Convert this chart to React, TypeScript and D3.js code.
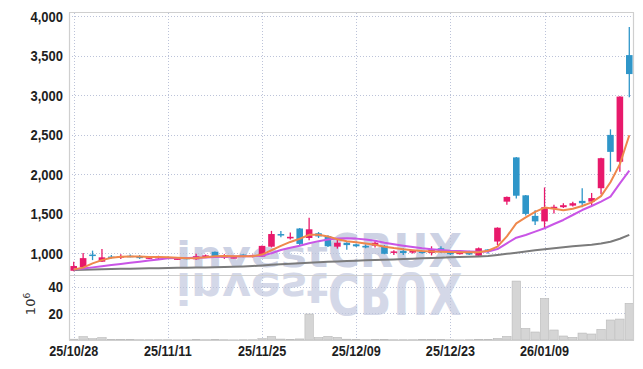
import React from 'react';
import * as d3 from 'd3';

// trading days shown on the chart
const dates = [
  '25/10/28', '25/10/29', '25/10/30', '25/10/31', '25/11/03', '25/11/04', '25/11/05', '25/11/06', '25/11/07', '25/11/10',
  '25/11/11', '25/11/12', '25/11/13', '25/11/14', '25/11/17', '25/11/18', '25/11/19', '25/11/20', '25/11/21', '25/11/24',
  '25/11/25', '25/11/26', '25/11/27', '25/11/28', '25/12/01', '25/12/02', '25/12/03', '25/12/04', '25/12/05', '25/12/08',
  '25/12/09', '25/12/10', '25/12/11', '25/12/12', '25/12/15', '25/12/16', '25/12/17', '25/12/18', '25/12/19', '25/12/22',
  '25/12/23', '25/12/24', '25/12/26', '25/12/29', '25/12/30', '26/01/02', '26/01/05', '26/01/06', '26/01/07', '26/01/08',
  '26/01/09', '26/01/12', '26/01/13', '26/01/14', '26/01/15', '26/01/16', '26/01/19', '26/01/20', '26/01/21', '26/01/22',
];

const opens = [
  775, 820, 980, 890, 955, 945, 965, 960, 930, 935,
  945, 920, 940, 920, 945, 1015, 940, 945, 980, 950,
  955, 1080, 1240, 1185, 1310, 1190, 1250, 1215, 1080, 1130,
  1110, 1090, 1092, 1090, 1005, 1025, 1005, 1020, 1000, 1060,
  1005, 985, 1000, 965, 1045, 1145, 1650, 2210, 1730, 1470,
  1400, 1565, 1580, 1600, 1660, 1650, 1820, 2495, 2155, 3505,
];
const highs = [
  890, 1000, 1030, 1050, 975, 985, 980, 975, 960, 965,
  955, 940, 945, 990, 980, 1020, 985, 955, 985, 980,
  1095, 1280, 1280, 1260, 1315, 1445, 1265, 1225, 1185, 1135,
  1120, 1110, 1150, 1100, 1035, 1060, 1035, 1030, 1085, 1085,
  1015, 1015, 1030, 1070, 1050, 1325, 1715, 2215, 1735, 1540,
  1830, 1610, 1630, 1650, 1820, 1760, 2205, 2565, 2985, 3860,
];
const lows = [
  770, 815, 910, 885, 930, 925, 945, 925, 925, 925,
  925, 915, 920, 915, 940, 950, 925, 935, 945, 945,
  950, 1070, 1200, 1170, 1090, 1160, 1190, 1075, 1055, 1040,
  1075, 1060, 1070, 985, 975, 975, 995, 990, 970, 1000,
  975, 980, 975, 960, 990, 1100, 1610, 1690, 1475, 1355,
  1315, 1500, 1570, 1590, 1580, 1600, 1745, 2030, 2030, 2970,
];
const closes = [
  835, 935, 970, 945, 950, 960, 955, 935, 945, 950,
  935, 932, 925, 960, 970, 955, 960, 948, 950, 975,
  1090, 1240, 1230, 1205, 1115, 1300, 1210, 1085, 1130, 1100,
  1085, 1070, 1130, 990, 1020, 1000, 1025, 1000, 1045, 1020,
  985, 1005, 985, 1060, 1025, 1320, 1710, 1725, 1495, 1400,
  1580, 1585, 1605, 1630, 1630, 1695, 2200, 2280, 2980, 3265,
];

// volume in millions of shares
const volumes = [
  0.6, 2.5, 1.0, 1.8, 0.3, 0.3, 0.3, 0.2, 0.2, 0.2,
  0.2, 0.1, 0.1, 0.3, 0.2, 0.3, 0.2, 0.1, 0.2, 0.2,
  1.0, 2.7, 0.7, 0.4, 0.8, 19.5, 1.8, 2.7, 2.0, 0.6,
  0.3, 0.2, 0.5, 0.5, 0.2, 0.2, 0.2, 0.3, 0.5, 0.3,
  0.2, 0.1, 0.2, 0.5, 0.3, 1.2, 2.7, 44.2, 8.7, 6.0,
  31.2, 7.5, 3.0, 2.0, 5.2, 4.5, 8.0, 15.0, 15.7, 27.5,
];

// moving average lines as drawn
const maShort = [
  790, 815, 868, 910, 940, 952, 955, 955, 950, 948,
  945, 940, 935, 938, 945, 958, 962, 960, 958, 960,
  980, 1035, 1090, 1140, 1180, 1230, 1232, 1210, 1175, 1150,
  1135, 1120, 1105, 1080, 1062, 1047, 1035, 1025, 1020, 1015,
  1012, 1009, 1008, 1010, 1028, 1080, 1210, 1376, 1450, 1520,
  1575, 1560, 1540, 1560, 1595, 1640, 1720, 1895, 2125, 2490,
];
const maMid = [
  790, 804, 818, 833, 847, 861, 876, 890, 904, 918,
  933, 936, 938, 940, 942, 948, 952, 955, 958, 960,
  966, 996, 1038, 1067, 1092, 1123, 1150, 1170, 1183, 1188,
  1182, 1170, 1155, 1130, 1110, 1092, 1075, 1060, 1048, 1038,
  1030, 1025, 1020, 1017, 1018, 1050, 1123, 1194, 1228, 1270,
  1313, 1367, 1418, 1481, 1544, 1595, 1650, 1713, 1882, 2042,
];
const maLong = [
  785, 788, 791, 794, 797, 800, 802, 804, 806, 808,
  810, 812, 814, 816, 818, 820, 823, 826, 830, 835,
  842, 850, 857, 864, 870, 876, 882, 888, 893, 898,
  902, 907, 911, 915, 919, 923, 928, 933, 937, 941,
  945, 949, 952, 956, 962, 975, 990, 1004, 1020, 1035,
  1048, 1060, 1072, 1085, 1095, 1105, 1120, 1143, 1180, 1230,
];

const priceTicks = [1000, 1500, 2000, 2500, 3000, 3500, 4000];
const volumeTicks = [20, 40];
const tickEvery = 10;

const W = 643;
const H = 369;
const left = 69;
const right = 634;
const top = 13;
const split = 275;
const bottom = 340;

const UP = '#e8196b';
const DOWN = '#2f96c9';
const GRID = '#bcc3d9';
const FRAME = '#cfcfcf';
const LABEL_FONT = "'Liberation Sans', Arial, sans-serif";

const App = () => {
  const idx = d3.range(dates.length);
  const x = d3.scaleBand<number>().domain(idx).range([left, right]).padding(0);
  const cx = (i: number) => (x(i) as number) + x.bandwidth() / 2;
  const y = d3.scaleLinear().domain([721.5, 4038]).range([split, top]);
  const yv = d3.scaleLinear().domain([0, 48.75]).range([bottom, split]);

  const bodyW = x.bandwidth() * 0.7;
  const fmt = d3.format(',');

  const line = (vals: number[]) =>
    d3.line<number>().x((_, i) => cx(i)).y((d) => y(d))(vals) || '';

  const tickIdx = idx.filter((i) => i % tickEvery === 0);

  return (
    <svg
      width={W}
      height={H}
      style={{ position: 'absolute', left: 0, top: 0, background: '#fff' }}
    >
      <defs>
        <clipPath id="plot">
          <rect x={left} y={top} width={right - left} height={bottom - top} />
        </clipPath>
      </defs>

      {/* watermark and its reflection */}
      <g clipPath="url(#plot)" fontFamily="'DejaVu Sans', sans-serif" fontWeight="bold" fill="#cdd2e4">
        <text id="wm" x={176} y={267}>
          <tspan fontSize={35} textLength={152} lengthAdjust="spacingAndGlyphs">invest</tspan>
          <tspan fontSize={47} textLength={134} lengthAdjust="spacingAndGlyphs">CRUX</tspan>
        </text>
        <use href="#wm" transform="translate(0,273) scale(1,-1.2) translate(0,-267)" opacity={0.85} />
      </g>

      {/* grid */}
      <g stroke={GRID} strokeWidth={1} strokeDasharray="1,2">
        {priceTicks.map((t) => (
          <line key={'p' + t} x1={left} x2={right} y1={Math.round(y(t)) + 0.5} y2={Math.round(y(t)) + 0.5} />
        ))}
        {volumeTicks.map((t) => (
          <line key={'v' + t} x1={left} x2={right} y1={Math.round(yv(t)) + 0.5} y2={Math.round(yv(t)) + 0.5} />
        ))}
        {tickIdx.map((i) => (
          <line key={'x' + i} x1={Math.round(cx(i)) + 0.5} x2={Math.round(cx(i)) + 0.5} y1={top} y2={bottom} />
        ))}
      </g>

      {/* volume bars */}
      <g fill="#d5d5d5" stroke="#b9b9b9" strokeWidth={0.6}>
        {volumes.map((v, i) => (
          <rect
            key={i}
            x={(x(i) as number) + 0.5}
            y={yv(v)}
            width={x.bandwidth() - 1}
            height={bottom - yv(v)}
          />
        ))}
      </g>

      {/* candles */}
      <g clipPath="url(#plot)">
        {idx.map((i) => {
          const o = opens[i];
          const c = closes[i];
          const col = c >= o ? UP : DOWN;
          const yTop = y(Math.max(o, c));
          const hBody = Math.max(1.5, Math.abs(y(o) - y(c)));
          return (
            <g key={i}>
              <line x1={cx(i)} x2={cx(i)} y1={y(highs[i])} y2={y(lows[i])} stroke={col} strokeWidth={1.3} />
              <rect x={cx(i) - bodyW / 2} y={yTop} width={bodyW} height={hBody} fill={col} />
            </g>
          );
        })}
      </g>

      {/* moving averages */}
      <g fill="none" strokeWidth={2} strokeLinejoin="round" clipPath="url(#plot)">
        <path d={line(maLong)} stroke="#7b7b7b" />
        <path d={line(maMid)} stroke="#c955e6" />
        <path d={line(maShort)} stroke="#ef884c" />
      </g>

      {/* frame */}
      <g stroke={FRAME} strokeWidth={1.2} fill="none">
        <line x1={left} x2={right} y1={top - 0.5} y2={top - 0.5} />
        <line x1={left} x2={right} y1={split + 0.5} y2={split + 0.5} />
        <line x1={left} x2={right} y1={bottom + 0.5} y2={bottom + 0.5} />
        <line x1={left + 0.5} x2={left + 0.5} y1={top - 0.5} y2={bottom + 0.5} />
        <line x1={right - 0.5} x2={right - 0.5} y1={top - 0.5} y2={bottom + 0.5} />
      </g>

      {/* axis labels, condensed horizontally */}
      <g fontFamily={LABEL_FONT} fontWeight="bold" fill="#1e1e1e" fontSize={15.5} textAnchor="end">
        {priceTicks.map((t) => (
          <text key={t} transform={`translate(63,${y(t)}) scale(0.84,1)`} dy="0.36em">{fmt(t)}</text>
        ))}
        {volumeTicks.map((t) => (
          <text key={t} transform={`translate(63,${yv(t)}) scale(0.84,1)`} dy="0.36em">{t}</text>
        ))}
      </g>
      <text
        transform="translate(35,304) rotate(-90)"
        textAnchor="middle"
        fontFamily="'DejaVu Sans', sans-serif"
        fontSize={13}
        fill="#333"
      >
        10<tspan dy={-5} fontSize={9}>6</tspan>
      </text>
      <g fontFamily={LABEL_FONT} fontWeight="bold" fill="#1e1e1e" fontSize={15} textAnchor="middle">
        {tickIdx.map((i) => (
          <text key={i} transform={`translate(${cx(i)},355.5) scale(0.84,1)`}>{dates[i]}</text>
        ))}
      </g>
    </svg>
  );
};

export default App;
